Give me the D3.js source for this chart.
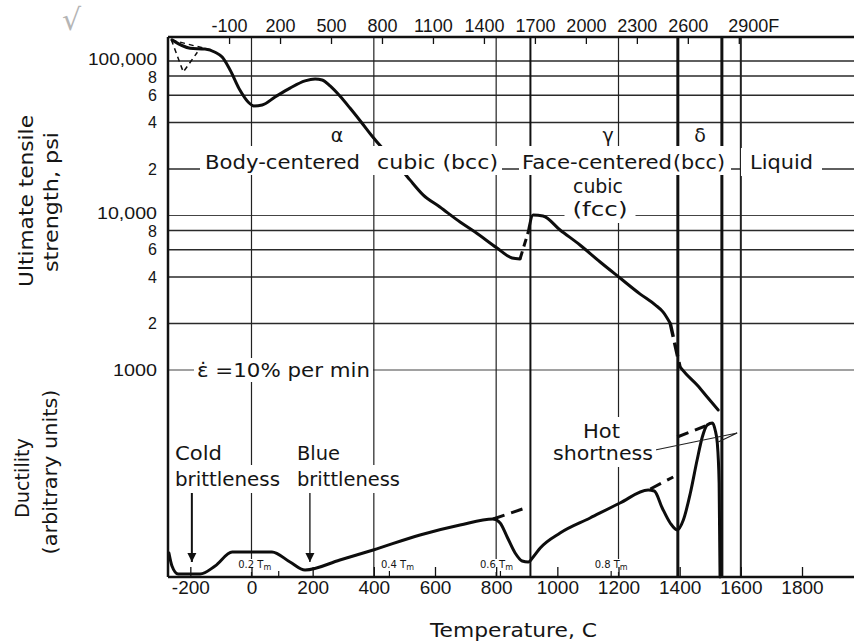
<!DOCTYPE html>
<html><head><meta charset="utf-8">
<script src="https://cdn.jsdelivr.net/npm/d3@7"></script>
<style>
body{margin:0;background:#fff}
svg{display:block}
text{font-family:"DejaVu Sans",sans-serif;fill:#151515}
.tick text{font-family:"Liberation Sans",Arial,sans-serif;fill:#151515}
</style>
</head><body>
<svg id="c" width="854" height="644"></svg>
<script>
// ---------------- data ----------------
const tempTicksC = [-200,0,200,400,600,800,1000,1200,1400,1600,1800];
const tempTicksF = [-100,200,500,800,1100,1400,1700,2000,2300,2600,2900];
const utsTicks = [100000,80000,60000,40000,20000,10000,8000,6000,4000,2000,1000];
const utsTickLabels = ["100,000","8","6","4","2","10,000","8","6","4","2","1000"];
const gridTempsC = [0,400,800,1200,1600];
const transitionTempsC = [912,1394,1538];
const tmTempsC = [89,451,814,1176];
const tmLabels = ["0.2","0.4","0.6","0.8"];

// ultimate tensile strength (psi) vs temperature (C)
const strengthSolidA = [[-260,137000],[-201,121000],[-152,119500],[-119,114000],[-96,106000],[-70,87500],[-38,64900],[-11,54300],[8,51200],[35,51900],[77,58500],[126,66800],[175,74300],[208,76400],[231,75300],[257,68900],[289,59300],[322,49600],[361,39700],[394,32700],[427,27400],[470,22200],[518,17000],[561,13600],[616,11350],[682,9080],[731,7820],[803,6160],[852,5310],[878,5230]];
const strengthDashA = [[878,5230],[905,7820]];
const strengthSolidB = [[905,7820],[921,10070],[953,9930],[1009,8060],[1074,6440],[1140,5000],[1205,3940],[1271,3100],[1320,2640],[1346,2370],[1369,2010]];
const strengthDashB = [[1369,2010],[1401,1045]];
const strengthSolidC = [[1401,1045],[1421,942],[1457,800],[1490,668],[1526,551]];
const strengthDashLow = [[-262,137000],[-223,84900],[-177,114000]];
const strengthDashHigh = [[-262,137000],[-184,125000],[-129,117800]];

// ductility (arbitrary units) vs temperature (C)
const ductility = [[-270,12],[-260,5.5],[-240,1.5],[-168,1.5],[-119,5.5],[-63,12.5],[67,12.5],[126,7.5],[175,3.5],[289,8.5],[398,13.5],[551,21],[682,26],[790,29],[813,27],[836,20],[862,12],[885,8],[905,7.5],[921,10],[944,14.5],[1009,22],[1107,29.5],[1205,37],[1297,43.5],[1317,43],[1343,34.5],[1369,27],[1392,23.5],[1412,28.5],[1435,42],[1457,58.5],[1474,70],[1490,76],[1507,77],[1516,73.5],[1523,67],[1529,47],[1532,0]];
const ductilityDashAlpha = [[790,29],[905,35]];
const ductilityDashGamma = [[1304,44],[1379,50]];
const ductilityDashDelta = [[1392,70],[1484,75.5]];
const brittleArrowsC = [-195,191];
const arrowFromTo = [42.5,7.5];
const hotLeader = [[1320,63.5],[1588,72],[1526,67.5]];

// ---------------- scales ----------------
const svg = d3.select("#c");
const L = 168, R = 854, T = 37, B = 577;
const x = d3.scaleLinear().domain([-273,1970]).range([L,R]);
const xF = d3.scaleLinear().domain([-273*1.8+32,1970*1.8+32]).range([L,R]);
const yS = d3.scaleLog().domain([1000,100000]).range([370,61]);
const yD = d3.scaleLinear().domain([0,100]).range([B,377]);

const gGrid = svg.append("g");
const gCurve = svg.append("g");
const gBg = svg.append("g");
const gText = svg.append("g");
const gAxis = svg.append("g");

// horizontal grid
utsTicks.forEach(v=>{
  const thin = (v===10000||v===1000);
  gGrid.append("line").attr("x1",L).attr("x2",R).attr("y1",yS(v)).attr("y2",yS(v))
    .attr("stroke",thin?"#444":"#2a2a2a").attr("stroke-width",thin?1.1:1.6);
});
// vertical grid
gridTempsC.forEach(t=>{
  gGrid.append("line").attr("x1",x(t)).attr("x2",x(t)).attr("y1",T).attr("y2",B)
    .attr("stroke","#222").attr("stroke-width",t===1600?2:1.2);
});
transitionTempsC.forEach(t=>{
  gGrid.append("line").attr("x1",x(t)).attr("x2",x(t)).attr("y1",T).attr("y2",B)
    .attr("stroke","#111").attr("stroke-width",t===912?2:3);
});

// curves
const lS = d3.line().x(d=>x(d[0])).y(d=>yS(d[1])).curve(d3.curveMonotoneX);
const lS2 = d3.line().x(d=>x(d[0])).y(d=>yS(d[1]));
const lD = d3.line().x(d=>x(d[0])).y(d=>yD(d[1])).curve(d3.curveMonotoneX);
const lD2 = d3.line().x(d=>x(d[0])).y(d=>yD(d[1]));
function path(d, gen, w, dash){
  gCurve.append("path").attr("d",gen(d)).attr("fill","none").attr("stroke","#0d0d0d")
    .attr("stroke-width",w).attr("stroke-linejoin","round").attr("stroke-linecap",dash?"butt":"round")
    .attr("stroke-dasharray",dash||null);
}
path(strengthSolidA,lS,3);
path(strengthDashA,lS2,3,"8,5");
path(strengthSolidB,lS,3);
path(strengthDashB,lS2,3.5,"14,6");
path(strengthSolidC,lS,3);
path(strengthDashLow,lS2,1.5,"5,4");
path(strengthDashHigh,lS2,1.5,"5,4");
path(ductility,lD,3);
path(ductilityDashAlpha,lD2,3,"12,7");
path(ductilityDashGamma,lD2,3,"12,7");
path(ductilityDashDelta,lD2,3,"12,7");

// arrows
svg.append("defs").append("marker").attr("id","ah").attr("viewBox","0 0 10 10")
  .attr("refX",10).attr("refY",5).attr("markerWidth",9).attr("markerHeight",12)
  .attr("markerUnits","userSpaceOnUse").attr("orient","auto")
  .append("path").attr("d","M0,0 L10,5 L0,10 Z").attr("fill","#111");
brittleArrowsC.forEach((t,i)=>{
  gCurve.append("line").attr("x1",x(t)).attr("x2",x(t)).attr("y1",yD(arrowFromTo[0])).attr("y2",yD(arrowFromTo[1]))
    .attr("stroke","#111").attr("stroke-width",i===0?2:1.3).attr("marker-end","url(#ah)");
});
gCurve.append("path").attr("d",lD2(hotLeader)).attr("fill","none").attr("stroke","#222").attr("stroke-width",1.2);

// text helper
function label(txt, px, py, o={}){
  const t = gText.append("text").attr("x",px).attr("y",py)
    .attr("font-size",o.size||20).attr("text-anchor",o.anchor||"start");
  if(o.len){ t.attr("textLength",o.len).attr("lengthAdjust","spacingAndGlyphs"); }
  if(o.html){ o.html(t); } else t.text(txt);
  if(o.bg){
    const b = t.node().getBBox();
    const p = o.bg;
    gBg.append("rect").attr("x",b.x-p[0]).attr("y",b.y-p[1]).attr("width",b.width+2*p[0])
      .attr("height",b.height+2*p[1]).attr("fill","#fff");
  }
  return t;
}
function bgRect(x0,y0,x1,y1){
  gBg.append("rect").attr("x",x0).attr("y",y0).attr("width",x1-x0).attr("height",y1-y0).attr("fill","#fff");
}

// phase labels
bgRect(200,146,502,175);
label("Body-centered",205,169,{len:155,size:20});
label("cubic (bcc)",377,169,{len:121,size:20});
bgRect(519,146,731,175);
label("Face-centered",522,169,{len:150,size:20});
label("(bcc)",673,169,{len:52,size:20});
label("Liquid",750,169,{len:63,bg:[9,2],size:20});
label("α",337,142,{anchor:"middle",size:19});
label("γ",608,142,{anchor:"middle",size:19});
label("δ",700,142,{anchor:"middle",size:19});
label("cubic",598,193,{anchor:"middle",len:50,bg:[6,2],size:20});
label("(fcc)",600,216,{anchor:"middle",len:55,bg:[8,2],size:20});
label("ε̇ =10% per min",197,377,{len:173,bg:[3,1],size:19});
label("Cold",175,460,{len:47,size:20});
label("brittleness",175,486,{len:105,bg:[2,2],size:20});
label("Blue",297,460,{len:43,size:20});
label("brittleness",297,486,{len:103,bg:[2,2],size:20});
label("Hot",583,438,{len:37,bg:[3,2],size:20});
label("shortness",553,460,{len:100,bg:[3,2],size:20});
label("Temperature, C",430,637,{len:167,size:20});
label("√",62,30,{size:30}).style("fill","#b5b5b5");

// Tm labels
tmTempsC.forEach((t,i)=>{
  const cx = x(t) + (i===0?-24:(i===1?8:(i===2?-4:0)));
  label("",cx,568,{anchor:"middle",size:10,bg:[1,0],html:s=>{
    s.append("tspan").text(tmLabels[i]+" T");
    s.append("tspan").attr("font-size",8).attr("dy",2).text("m");
  }});
  gAxis.append("line").attr("x1",x(t)).attr("x2",x(t)).attr("y1",B).attr("y2",B-6)
    .attr("stroke","#111").attr("stroke-width",1.2);
});

// axis titles
function vtitle(txt, px, py, len){
  gText.append("text").attr("transform",`translate(${px},${py}) rotate(-90)`)
    .attr("text-anchor","middle").attr("font-size",20)
    .attr("textLength",len).attr("lengthAdjust","spacingAndGlyphs").text(txt);
}
vtitle("Ultimate tensile",33,201,172);
vtitle("strength, psi",58,202,140);
vtitle("Ductility",29,478,80);
vtitle("(arbitrary units)",57,472,165);

// axes
const axL = d3.axisLeft(yS).tickValues(utsTicks).tickFormat((d,i)=>utsTickLabels[i]).tickSize(0).tickPadding(11);
const gL = gAxis.append("g").attr("transform",`translate(${L},0)`).call(axL);
gL.select(".domain").remove();
gL.selectAll("text").attr("font-size",16)
  .attr("textLength",d=>d===100000?69:(d===10000?60:(d===1000?44:null)))
  .attr("lengthAdjust","spacingAndGlyphs")
  .attr("y",d=>(d===100000||d===10000)?-2:((d===80000||d===8000)?1:0));

const axB = d3.axisBottom(x).tickValues(tempTicksC).tickFormat(d=>String(d)).tickSize(-10).tickPadding(4);
const gB = gAxis.append("g").attr("transform",`translate(0,${B})`).call(axB);
gB.select(".domain").remove();
gB.selectAll("text").attr("font-size",19);
gB.selectAll("line").attr("stroke","#111").attr("stroke-width",1.3);

const axT = d3.axisTop(xF).tickValues(tempTicksF).tickFormat(d=>d===2900?"2900F":String(d)).tickSize(-7).tickPadding(5);
const gT = gAxis.append("g").attr("transform",`translate(0,${T})`).call(axT);
gT.select(".domain").remove();
gT.selectAll("text").attr("font-size",18);
gT.selectAll(".tick").filter(d=>d===2900).select("text").attr("text-anchor","start").attr("x",-11);
gT.selectAll("line").attr("stroke","#111").attr("stroke-width",1.3);

// frame
gAxis.append("line").attr("x1",L).attr("x2",R).attr("y1",T).attr("y2",T).attr("stroke","#111").attr("stroke-width",2.5);
gAxis.append("line").attr("x1",L).attr("x2",R).attr("y1",B).attr("y2",B).attr("stroke","#111").attr("stroke-width",2.5);
gAxis.append("line").attr("x1",L).attr("x2",L).attr("y1",T).attr("y2",B).attr("stroke","#111").attr("stroke-width",2.5);
</script>
</body></html>
